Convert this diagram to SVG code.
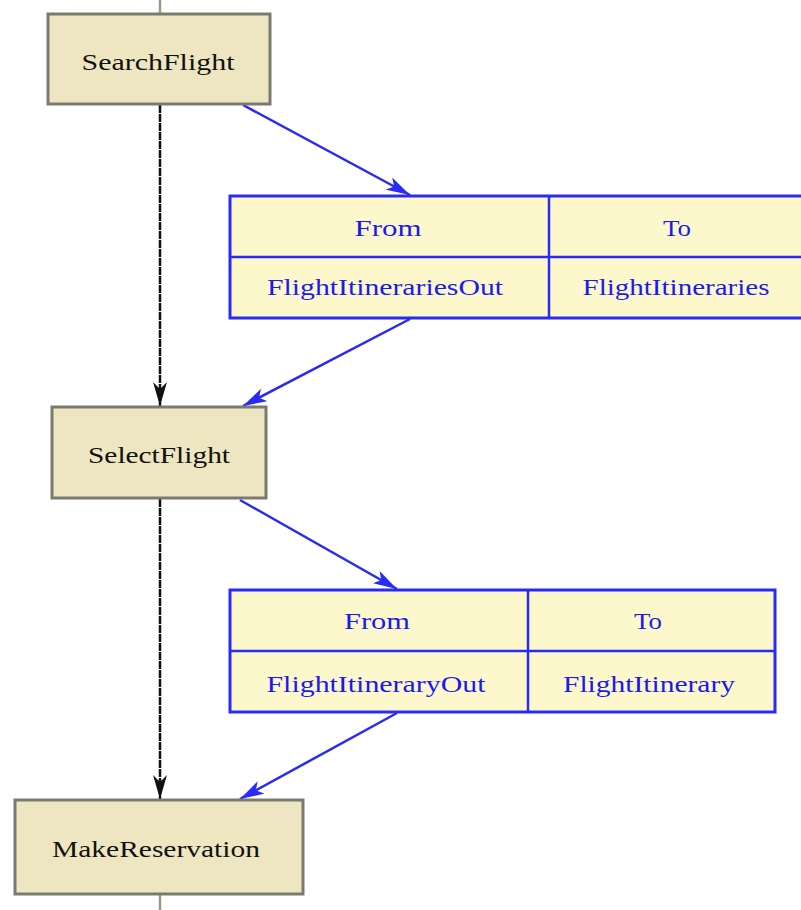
<svg xmlns="http://www.w3.org/2000/svg" width="801" height="910" viewBox="0 0 801 910">
<style>
.node rect{fill:#ede6c0;stroke:#7a7a72;stroke-width:3}
.node text{font-family:"Liberation Serif","Times New Roman",serif;font-size:23px;fill:#111;text-anchor:middle}
.tbl rect{fill:#fdf7cc;stroke:#2a2af5;stroke-width:3}
.tbl line{stroke:#2a2af5;stroke-width:2.5}
.tbl text{font-family:"Liberation Serif","Times New Roman",serif;font-size:23px;fill:#1a1af0;text-anchor:middle}
.seq{stroke:#111;stroke-width:2.5;fill:none;stroke-dasharray:8 1}
.flow{stroke:#2a2af5;stroke-width:2.5;fill:none}
.stub{stroke:#9a9a88;stroke-width:2.5}
</style>
<defs>
<marker id="ab" viewBox="0 0 24 14" refX="24" refY="7" markerWidth="24" markerHeight="14" markerUnits="userSpaceOnUse" orient="auto">
<path d="M0,0 L24,7 L0,14 L6,7 Z" fill="#2a2af5"/>
</marker>
<marker id="ak" viewBox="0 0 14 24" refX="7" refY="24" markerWidth="14" markerHeight="24" markerUnits="userSpaceOnUse" orient="0">
<path d="M0,0 L7,24 L14,0 L7,7 Z" fill="#111"/>
</marker>
</defs>
<g id="connectors">
<line class="stub" x1="160" y1="0" x2="160" y2="14"/>
<line class="stub" x1="160" y1="894" x2="160" y2="910"/>
<line class="seq" x1="160" y1="105" x2="160" y2="406" marker-end="url(#ak)"/>
<line class="seq" x1="160" y1="499" x2="160" y2="799" marker-end="url(#ak)"/>
<line class="flow" x1="243" y1="105" x2="410" y2="195" marker-end="url(#ab)"/>
<line class="flow" x1="410" y1="319" x2="243" y2="406" marker-end="url(#ab)"/>
<line class="flow" x1="240" y1="500" x2="397" y2="589" marker-end="url(#ab)"/>
<line class="flow" x1="397" y1="713" x2="240" y2="799" marker-end="url(#ab)"/>
</g>
<g id="SearchFlight" class="node">
<rect x="48" y="14" width="222" height="90"/>
<text x="158" y="70" textLength="153" lengthAdjust="spacingAndGlyphs">SearchFlight</text>
</g>
<g id="SelectFlight" class="node">
<rect x="52" y="407" width="214" height="91"/>
<text x="159" y="463" textLength="142" lengthAdjust="spacingAndGlyphs">SelectFlight</text>
</g>
<g id="MakeReservation" class="node">
<rect x="15" y="800" width="288" height="94"/>
<text x="156" y="857" textLength="208" lengthAdjust="spacingAndGlyphs">MakeReservation</text>
</g>
<g id="mapping1" class="tbl">
<rect x="230" y="196" width="574" height="122"/>
<line x1="230" y1="257" x2="804" y2="257"/>
<line x1="549" y1="196" x2="549" y2="318"/>
<text x="388" y="236" textLength="67" lengthAdjust="spacingAndGlyphs">From</text>
<text x="677" y="236" textLength="28" lengthAdjust="spacingAndGlyphs">To</text>
<text x="385" y="295" textLength="236" lengthAdjust="spacingAndGlyphs">FlightItinerariesOut</text>
<text x="676" y="295" textLength="187" lengthAdjust="spacingAndGlyphs">FlightItineraries</text>
</g>
<g id="mapping2" class="tbl">
<rect x="230" y="590" width="545" height="122"/>
<line x1="230" y1="651" x2="775" y2="651"/>
<line x1="528" y1="590" x2="528" y2="712"/>
<text x="377" y="629" textLength="66" lengthAdjust="spacingAndGlyphs">From</text>
<text x="648" y="629" textLength="28" lengthAdjust="spacingAndGlyphs">To</text>
<text x="376" y="692" textLength="219" lengthAdjust="spacingAndGlyphs">FlightItineraryOut</text>
<text x="649" y="692" textLength="172" lengthAdjust="spacingAndGlyphs">FlightItinerary</text>
</g>
</svg>
